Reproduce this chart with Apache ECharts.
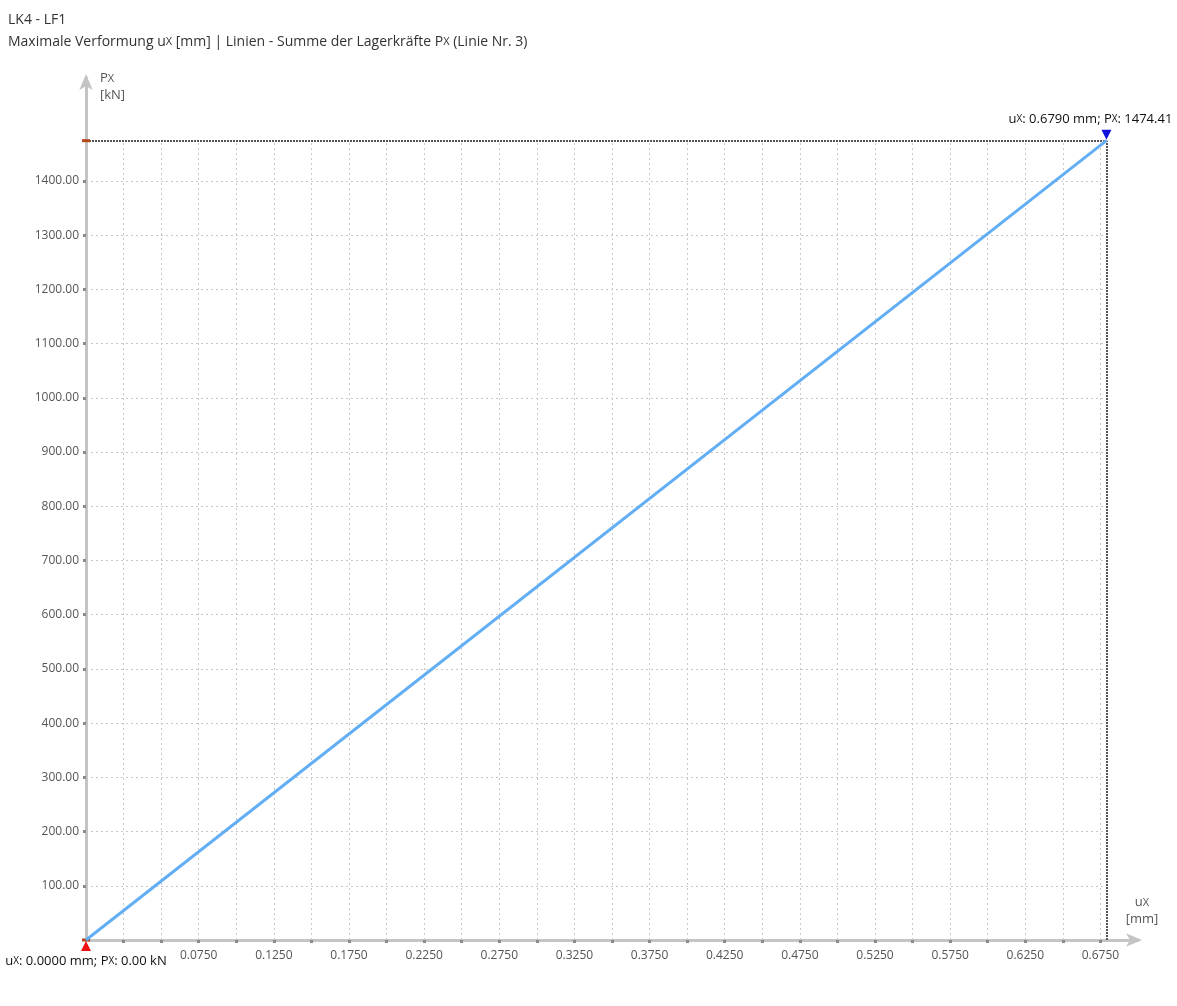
<!DOCTYPE html>
<html>
<head>
<meta charset="utf-8">
<script src="https://cdn.jsdelivr.net/npm/echarts@6/dist/echarts.min.js"></script>
<style>
html,body{margin:0;padding:0;background:#fff;}
#c{width:1177px;height:1006px;}
</style>
</head>
<body>
<div id="c"></div>
<script>
// Data
const uxValues = [0.0, 0.679];          // mm
const pxValues = [0.0, 1474.41];        // kN
const xTickValues = [0.025,0.05,0.075,0.1,0.125,0.15,0.175,0.2,0.225,0.25,0.275,0.3,0.325,0.35,0.375,0.4,0.425,0.45,0.475,0.5,0.525,0.55,0.575,0.6,0.625,0.65,0.675];
const xLabelValues = [0.075,0.125,0.175,0.225,0.275,0.325,0.375,0.425,0.475,0.525,0.575,0.625,0.675];
const yTickValues = [100,200,300,400,500,600,700,800,900,1000,1100,1200,1300,1400];
const titleLine1 = 'LK4 - LF1';

const FONT = '"Open Sans", "Noto Sans", sans-serif';
const xMax = 0.70, yMax = 1590;
const xEnd = uxValues[uxValues.length-1], yEnd = pxValues[pxValues.length-1];

const chart = echarts.init(document.getElementById('c'));

const gridLines = [];
xTickValues.forEach(v => gridLines.push([{coord:[v,0]},{coord:[v,yEnd]}]));
yTickValues.forEach(v => gridLines.push([{coord:[0,v]},{coord:[xEnd,v]}]));

chart.setOption({
  animation: false,
  textStyle: {fontFamily: FONT},
  title: [{
    left: 3, top: 4,
    text: '{a|' + titleLine1 + '}\n{a|Maximale Verformung u}{s|X}{a| [mm] | Linien - Summe der Lagerkräfte P}{s|X}{a| (Linie Nr. 3)}',
    textStyle: {
      fontSize: 14, color: '#333', fontWeight: 'normal', lineHeight: 22,
      rich: {a:{fontSize:14,color:'#333',fontFamily:FONT,lineHeight:22}, s:{fontSize:11,color:'#333',fontFamily:FONT,lineHeight:22}}
    }
  }],
  grid: {left: 86, right: 39, top: 78, bottom: 66, containLabel: false},
  xAxis: {
    type: 'value', min: 0, max: xMax,
    name: '{a|u}{s|X}\n{a|[mm]}',
    nameLocation: 'end', nameGap: 0,
    nameTextStyle: {
      align: 'center', verticalAlign: 'bottom', padding: [0, 0, 12, 8],
      rich: {a:{fontSize:13,color:'#555',fontFamily:FONT,lineHeight:17}, s:{fontSize:11,color:'#555',fontFamily:FONT,lineHeight:17}}
    },
    axisLine: {show: true, lineStyle: {color: '#c4c4c4', width: 3}, symbol: ['none','arrow'], symbolSize: [10, 16], symbolOffset: [0, 4]},
    axisTick: {show: true, customValues: xTickValues, length: 3, inside: false, lineStyle: {color: '#8a8a8a', width: 3}},
    axisLabel: {show: true, customValues: xLabelValues, formatter: v => v.toFixed(4), color: '#555', fontSize: 12, margin: 10},
    splitLine: {show: false}
  },
  yAxis: {
    type: 'value', min: 0, max: yMax,
    name: '{a|P}{s|X}\n{a|[kN]}',
    nameLocation: 'end', nameGap: 0,
    nameTextStyle: {
      align: 'left', verticalAlign: 'bottom', padding: [0, 0, -26, 14],
      rich: {a:{fontSize:13,color:'#555',fontFamily:FONT,lineHeight:17}, s:{fontSize:11,color:'#555',fontFamily:FONT,lineHeight:17}}
    },
    axisLine: {show: true, onZero: true, lineStyle: {color: '#c4c4c4', width: 3}, symbol: ['none','arrow'], symbolSize: [10, 16], symbolOffset: [0, 4]},
    axisTick: {show: true, customValues: yTickValues, length: 3, lineStyle: {color: '#8a8a8a', width: 3}},
    axisLabel: {show: true, customValues: yTickValues, formatter: v => v.toFixed(2), color: '#555', fontSize: 12, margin: 7},
    splitLine: {show: false}
  },
  series: [
    {
      type: 'line', silent: true, z: 1,
      data: [],
      markLine: {
        silent: true, symbol: 'none', animation: false,
        label: {show: false},
        lineStyle: {color: '#c8c8c8', width: 1, type: [2, 3]},
        data: gridLines
      }
    },
    {
      type: 'line', z: 2, silent: true,
      data: [],
      markLine: {
        silent: true, symbol: 'none', animation: false,
        label: {show: false},
        lineStyle: {color: '#555', width: 2, type: [2, 1]},
        data: [
          [{coord:[0,yEnd]},{coord:[xEnd,yEnd]}],
          [{coord:[xEnd,0]},{coord:[xEnd,yEnd]}]
        ]
      }
    },
    {
      type: 'line', z: 5,
      data: uxValues.map((x,i)=>[x,pxValues[i]]),
      showSymbol: false, symbol: 'none',
      lineStyle: {color: '#62aef5', width: 3},
      markPoint: {
        silent: true, animation: false,
        data: [
          {coord:[0,0], symbol:'triangle', symbolSize:[10,10], symbolOffset:[0,6], itemStyle:{color:'#ee1111'},
           label:{show:true, position:'bottom', distance:4, formatter:'{a|u}{s|X}{a|: ' + uxValues[0].toFixed(4) + ' mm; P}{s|X}{a|: ' + pxValues[0].toFixed(2) + ' kN}',
             rich:{a:{fontSize:13,color:'#111',fontFamily:FONT}, s:{fontSize:10,color:'#111',fontFamily:FONT}}}},
          {coord:[xEnd,yEnd], symbol:'triangle', symbolRotate:180, symbolSize:[10,10], symbolOffset:[0,-6], itemStyle:{color:'#1010dd'},
           label:{show:true, position:'top', distance:4, offset:[-16,0], formatter:'{a|u}{s|X}{a|: ' + xEnd.toFixed(4) + ' mm; P}{s|X}{a|: ' + yEnd.toFixed(2) + '}',
             rich:{a:{fontSize:13,color:'#111',fontFamily:FONT}, s:{fontSize:10,color:'#111',fontFamily:FONT}}}},
          {coord:[0,yEnd], symbol:'rect', symbolSize:[8,3], itemStyle:{color:'#b8451a'}, label:{show:false}},
          {coord:[0,0], symbol:'rect', symbolSize:[8,3], itemStyle:{color:'#b8451a'}, label:{show:false}}
        ]
      }
    }
  ]
});
</script>
</body>
</html>
